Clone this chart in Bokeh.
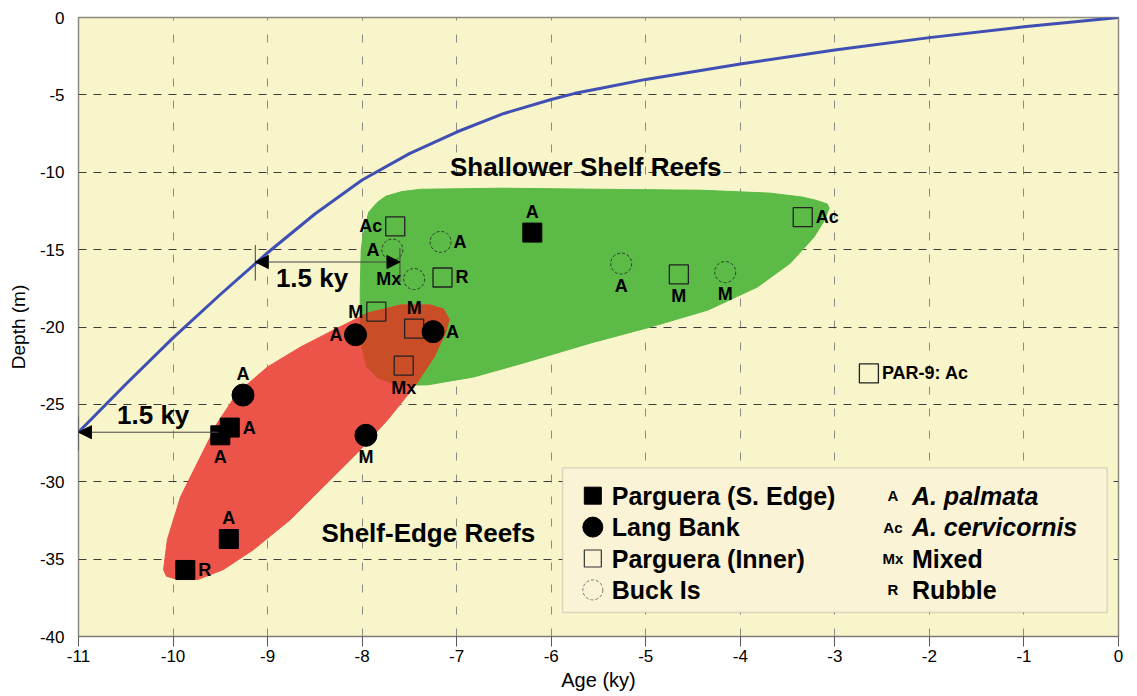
import numpy as np
from bokeh.plotting import figure
from bokeh.models import ColumnDataSource, Range1d, FixedTicker, Arrow, NormalHead, Label, BoxAnnotation
from bokeh.core.properties import value
from bokeh.embed import file_html
from bokeh.resources import INLINE

FONT = "Liberation Sans"

# ---------------- data ----------------
x_ticks = list(range(-11, 1))
y_ticks = list(range(-40, 1, 5))
x_tick_labels = {t: str(t) for t in x_ticks}
y_tick_labels = {t: str(t) for t in y_ticks}

# sea-level curve (age ky, depth m)
curve_age = [-11.0, -10.5, -10.0, -9.5, -9.0, -8.5, -8.0, -7.5, -7.0, -6.5, -6.0, -5.75, -5.5, -5.0, -4.0, -3.0, -2.0, -1.0, 0.0]
curve_depth = [-26.8, -23.7, -20.7, -17.9, -15.2, -12.7, -10.5, -8.8, -7.4, -6.2, -5.3, -4.9, -4.6, -4.0, -3.0, -2.1, -1.3, -0.6, 0.0]

# Parguera (S. Edge) - filled squares
pse_age = [-6.2, -9.5, -9.4, -9.41, -9.87]
pse_depth = [-13.9, -27.0, -26.5, -33.7, -35.7]
pse_code = ["A", "A", "A", "A", "R"]
pse_pos = ["above", "below", "right", "above", "right"]

# Lang Bank - filled circles
lb_age = [-9.26, -8.07, -7.25, -7.96]
lb_depth = [-24.4, -20.5, -20.3, -27.0]
lb_code = ["A", "A", "A", "M"]
lb_pos = ["above", "left", "right", "below"]

# Parguera (Inner) - open squares
pin_age = [-7.65, -7.85, -7.45, -7.56, -7.15, -4.65, -3.34, -2.64]
pin_depth = [-13.5, -19.0, -20.1, -22.5, -16.8, -16.6, -12.9, -23.0]
pin_code = ["Ac", "M", "M", "Mx", "R", "M", "Ac", "PAR-9: Ac"]
pin_pos = ["left", "left", "above", "below", "right", "below", "right", "right"]

# Buck Is - dashed open circles
bi_age = [-7.68, -7.17, -7.45, -5.26, -4.16]
bi_depth = [-15.0, -14.5, -16.9, -15.9, -16.45]
bi_code = ["A", "A", "Mx", "A", "M"]
bi_pos = ["left", "right", "left", "below", "below"]

# Shallower shelf reefs region outline
green_age = [-7.99, -7.93, -7.84, -7.75, -7.58, -7.38, -6.53, -5.48, -4.42, -3.68, -3.35, -3.20, -3.08, -3.06,
             -3.12, -3.22, -3.47, -3.82, -4.34, -4.95, -5.58, -6.29, -6.82, -7.31, -7.62, -7.83, -7.95, -8.02, -8.02, -8.01]
green_depth = [-14.06, -12.58, -11.95, -11.55, -11.25, -11.10, -11.03, -11.10, -11.16, -11.35, -11.6, -11.81, -12.05, -12.32,
               -13.2, -14.19, -15.87, -17.42, -18.90, -20.0, -21.03, -22.32, -23.23, -23.74, -23.75, -23.3, -22.6, -20.84, -17.61, -15.03]

# Shelf-edge reefs region outline
red_age = [-10.10, -10.06, -9.92, -9.71, -9.53, -9.32, -9.00, -8.65, -8.30, -7.94, -7.59, -7.28, -7.14, -7.08,
           -7.12, -7.24, -7.45, -7.73, -8.05, -8.41, -8.76, -9.15, -9.47, -9.74, -9.95, -10.07]
red_depth = [-35.68, -33.74, -30.97, -28.39, -26.19, -24.26, -22.58, -21.29, -20.19, -19.10, -18.58, -18.58, -18.85, -19.5,
             -20.39, -21.94, -23.87, -26.0, -28.13, -30.32, -32.45, -34.39, -35.68, -36.32, -36.32, -36.1]

# 1.5 ky offset arrows
arrow_y = [-15.8, -26.8]
arrow_x0 = [-9.13, -11.0]
arrow_x1 = [-7.60, -9.52]
arrow_label = ["1.5 ky", "1.5 ky"]
arrow_label_x = [-8.53, -10.21]
arrow_label_y = [-16.84, -25.68]

series_names = ["Parguera (S. Edge)", "Lang Bank", "Parguera (Inner)", "Buck Is"]
code_keys = ["A", "Ac", "Mx", "R"]
code_names = ["A. palmata", "A. cervicornis", "Mixed", "Rubble"]
code_italic = [True, True, False, False]

# ---------------- helpers ----------------
def clip_convex(subject, clip):
    def area(poly):
        s = 0.0
        for i in range(len(poly)):
            x1, y1 = poly[i]; x2, y2 = poly[(i + 1) % len(poly)]
            s += x1 * y2 - x2 * y1
        return s / 2
    if area(clip) < 0:
        clip = clip[::-1]
    def inside(p, a, b):
        return (b[0] - a[0]) * (p[1] - a[1]) - (b[1] - a[1]) * (p[0] - a[0]) >= 0
    def inter(s, e, a, b):
        dc = (a[0] - b[0], a[1] - b[1]); dp = (s[0] - e[0], s[1] - e[1])
        n1 = a[0] * b[1] - a[1] * b[0]; n2 = s[0] * e[1] - s[1] * e[0]
        den = dc[0] * dp[1] - dc[1] * dp[0]
        return ((n1 * dp[0] - n2 * dc[0]) / den, (n1 * dp[1] - n2 * dc[1]) / den)
    out = list(subject)
    for i in range(len(clip)):
        a = clip[i]; b = clip[(i + 1) % len(clip)]
        inp = out; out = []
        if not inp:
            break
        s = inp[-1]
        for e in inp:
            if inside(e, a, b):
                if not inside(s, a, b):
                    out.append(inter(s, e, a, b))
                out.append(e)
            elif inside(s, a, b):
                out.append(inter(s, e, a, b))
            s = e
    return out

# ---------------- figure ----------------
p = figure(frame_width=1040, frame_height=619, output_backend="svg", toolbar_location=None,
           x_range=Range1d(-11, 0), y_range=Range1d(-40, 0),
           min_border_left=78, min_border_right=19, min_border_top=17, min_border_bottom=60)
p.background_fill_color = "#f7f5c9"
p.border_fill_color = "white"
p.outline_line_color = "#8a8a80"
p.outline_line_width = 1.5

p.xgrid.ticker = FixedTicker(ticks=x_ticks)
p.ygrid.ticker = FixedTicker(ticks=y_ticks)
p.xgrid.grid_line_color = "#8c8c84"
p.xgrid.grid_line_dash = "8 14"
p.xgrid.grid_line_width = 1
p.ygrid.grid_line_color = "#3c3c3c"
p.ygrid.grid_line_dash = "8 7"
p.ygrid.grid_line_width = 1

xa = p.xaxis[0]
xa.ticker = FixedTicker(ticks=x_ticks)
xa.major_label_overrides = x_tick_labels
xa.axis_label = "Age (ky)"
xa.axis_label_text_font = FONT
xa.axis_label_text_font_style = "normal"
xa.axis_label_text_font_size = "20px"
xa.axis_label_text_color = "black"
xa.axis_label_standoff = 4
xa.major_label_text_font = FONT
xa.major_label_text_font_size = "17px"
xa.major_label_text_color = "black"
xa.major_label_standoff = 3
xa.major_tick_out = 10
xa.major_tick_in = 0
xa.minor_tick_out = 0
xa.minor_tick_in = 0
xa.axis_line_color = "#777777"
xa.major_tick_line_color = "#555555"

ya = p.yaxis[0]
ya.ticker = FixedTicker(ticks=y_ticks)
ya.major_label_overrides = y_tick_labels
ya.axis_label = "Depth (m)"
ya.axis_label_text_font = FONT
ya.axis_label_text_font_style = "normal"
ya.axis_label_text_font_size = "19px"
ya.axis_label_text_color = "black"
ya.axis_label_standoff = 8
ya.major_label_text_font = FONT
ya.major_label_text_font_size = "17px"
ya.major_label_text_color = "black"
ya.major_label_standoff = 14
ya.major_tick_out = 0
ya.major_tick_in = 0
ya.minor_tick_out = 0
ya.minor_tick_in = 0
ya.axis_line_color = None

# regions
p.patch(green_age, green_depth, fill_color="#5cba47", line_color="#5cba47", line_width=1)
p.patch(red_age, red_depth, fill_color="#ec5349", line_color="#ec5349", line_width=1)
ov = clip_convex(list(zip(green_age, green_depth)), list(zip(red_age, red_depth)))
if ov:
    p.patch([q[0] for q in ov], [q[1] for q in ov], fill_color="#c94d27", line_color="#c94d27", line_width=1)

# sea-level curve
p.line(curve_age, curve_depth, line_color="#3f4fb3", line_width=3, line_join="round")

# arrows
for x0, x1, y in zip(arrow_x0, arrow_x1, arrow_y):
    head_end = NormalHead(size=13, fill_color="black", line_color="black") if x0 > -11 else None
    p.add_layout(Arrow(start=NormalHead(size=13, fill_color="black", line_color="black"), end=head_end,
                       x_start=x0, y_start=y, x_end=x1, y_end=y, line_color="#444444", line_width=1))
p.segment(x0=[arrow_x0[0], arrow_x1[0], arrow_x0[1]], x1=[arrow_x0[0], arrow_x1[0], arrow_x0[1]],
          y0=[arrow_y[0] + 1.1, arrow_y[0] + 0.9, arrow_y[1] + 1.0],
          y1=[arrow_y[0] - 1.2, arrow_y[0] - 1.3, arrow_y[1] - 1.2], line_color="#444444", line_width=1)
for t, x, y in zip(arrow_label, arrow_label_x, arrow_label_y):
    p.add_layout(Label(x=x, y=y, text=t, text_font=FONT, text_font_style="bold", text_font_size="26px",
                       text_align="center", text_baseline="middle", text_color="black"))

# region titles
p.add_layout(Label(x=-5.635, y=-9.68, text="Shallower Shelf Reefs", text_font=FONT, text_font_style="bold",
                   text_font_size="26px", text_align="center", text_baseline="middle", text_color="black"))
p.add_layout(Label(x=-7.30, y=-33.29, text="Shelf-Edge Reefs", text_font=FONT, text_font_style="bold",
                   text_font_size="26px", text_align="center", text_baseline="middle", text_color="black"))

# markers
p.scatter(pin_age, pin_depth, marker="square", size=19, fill_color=None, line_color="#222222", line_width=1.3)
p.scatter(bi_age, bi_depth, marker="circle", size=21, fill_color=None, line_color="#2b3f2b", line_width=1,
          line_dash="3 2")
p.scatter(pse_age, pse_depth, marker="square", size=19, fill_color="black", line_color="black")
p.scatter(lb_age, lb_depth, marker="circle", size=22, fill_color="black", line_color="black")

# point codes
offsets = {"above": (0, -21, "center"), "below": (0, 22, "center"),
           "left": (-13, 0, "right"), "right": (13, 0, "left")}
all_x = pse_age + lb_age + pin_age + bi_age
all_y = pse_depth + lb_depth + pin_depth + bi_depth
all_c = pse_code + lb_code + pin_code + bi_code
all_p = pse_pos + lb_pos + pin_pos + bi_pos
for pos, (dx, dy, al) in offsets.items():
    idx = [i for i, q in enumerate(all_p) if q == pos]
    src = ColumnDataSource(dict(x=[all_x[i] for i in idx], y=[all_y[i] for i in idx],
                                t=[all_c[i] for i in idx]))
    p.text(x="x", y="y", text="t", source=src, x_offset=dx, y_offset=dy, text_align=al,
           text_baseline="middle", text_font=value(FONT), text_font_style="bold",
           text_font_size="18px", text_color="black")

# legend
p.add_layout(BoxAnnotation(left=-5.88, right=-0.12, top=-29.1, bottom=-38.45, fill_color="#faf3d6",
                           fill_alpha=1, line_color="#999999", line_width=1.5))
leg_key_x = -5.56
leg_txt_x = -5.36
leg_rows = [-30.9 - 2.03 * i for i in range(4)]
p.scatter([leg_key_x], [leg_rows[0]], marker="square", size=17, fill_color="black", line_color="black", level="overlay")
p.scatter([leg_key_x], [leg_rows[1]], marker="circle", size=20, fill_color="black", line_color="black", level="overlay")
p.scatter([leg_key_x], [leg_rows[2]], marker="square", size=17, fill_color=None, line_color="#333333",
          line_width=1.2, level="overlay")
p.scatter([leg_key_x], [leg_rows[3]], marker="circle", size=20, fill_color=None, line_color="#777777",
          line_width=1, line_dash="3 2", level="overlay")
for name, y in zip(series_names, leg_rows):
    p.add_layout(Label(x=leg_txt_x, y=y, text=name, text_font=FONT, text_font_style="bold",
                       text_font_size="25px", text_align="left", text_baseline="middle", text_color="black"))
for k, nm, it, y in zip(code_keys, code_names, code_italic, leg_rows):
    p.add_layout(Label(x=-2.386, y=y, text=k, text_font=FONT, text_font_style="bold",
                       text_font_size="15px", text_align="center", text_baseline="middle", text_color="black"))
    p.add_layout(Label(x=-2.185, y=y, text=nm, text_font=FONT,
                       text_font_style="bold italic" if it else "bold",
                       text_font_size="25px", text_align="left", text_baseline="middle", text_color="black"))

open("out.html", "w").write(file_html(p, INLINE))
